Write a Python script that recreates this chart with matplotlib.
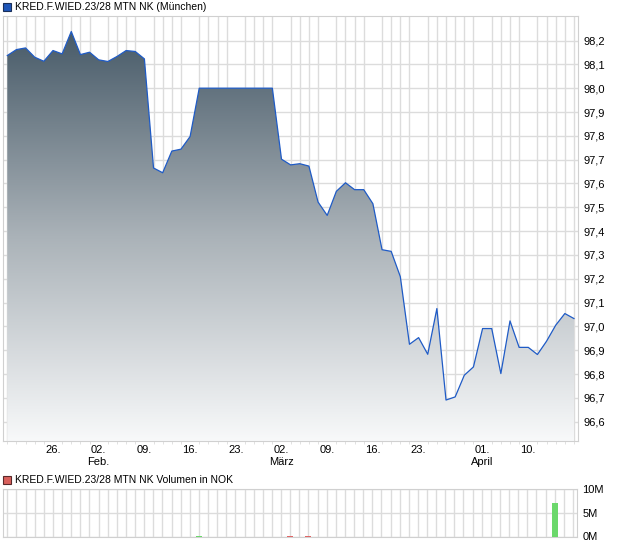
import numpy as np
import matplotlib.pyplot as plt
from matplotlib.patches import Polygon, Rectangle
from matplotlib.colors import LinearSegmentedColormap

plt.rcParams['font.family'] = ['Liberation Sans', 'DejaVu Sans']

# Schlusskurse pro Handelstag (Index 0 = 19.01.)
kurs = [98.137, 98.162, 98.169, 98.130, 98.113, 98.158, 98.144, 98.238, 98.141, 98.151,
        98.119, 98.112, 98.133, 98.158, 98.154, 98.123, 97.665, 97.645, 97.736, 97.744,
        97.797, 98.000, 98.000, 98.000, 98.000, 98.000, 98.000, 98.000, 98.000, 98.000,
        97.702, 97.678, 97.683, 97.673, 97.522, 97.466, 97.567, 97.603, 97.574, 97.574,
        97.515, 97.322, 97.315, 97.209, 96.925, 96.953, 96.883, 97.075, 96.691, 96.704,
        96.795, 96.830, 96.991, 96.991, 96.802, 97.023, 96.912, 96.912, 96.882, 96.938,
        97.005, 97.054, 97.033]

# Volumen in Mio. NOK
vol_tage = [21, 31, 33, 60]
vol_werte = [0.2, 0.2, 0.2, 7.1]
vol_steigend = [True, False, False, True]

x_ticks = [5, 10, 15, 20, 25, 30, 35, 40, 45, 52, 57]
x_labels = ["26.", "02.\nFeb.", "09.", "16.", "23.", "02.\nMärz", "09.", "16.", "23.",
            "01.\nApril", "10."]
y_ticks = [96.6, 96.7, 96.8, 96.9, 97.0, 97.1, 97.2, 97.3, 97.4, 97.5,
           97.6, 97.7, 97.8, 97.9, 98.0, 98.1, 98.2]

titel = "KRED.F.WIED.23/28 MTN NK (München)"
titel_vol = "KRED.F.WIED.23/28 MTN NK Volumen in NOK"

W, H = 620, 546
fig = plt.figure(figsize=(W / 100, H / 100), dpi=100)

grid_c = "#dcdcdc"
xlim = (-0.47, 62.44)
ylim = (96.519, 98.303)

ax = fig.add_axes([3 / W, 1 - 441 / H, 575 / W, 425 / H])
x = np.arange(len(kurs))
y = np.array(kurs)

ax.set_xlim(*xlim)
ax.set_ylim(*ylim)
ax.set_xticks(x, minor=True)
ax.set_xticks(x_ticks)
ax.set_xticklabels(x_labels, fontsize=8, linespacing=1.25)
ax.set_yticks(y_ticks)
ax.set_yticklabels([f"{v:.1f}".replace(".", ",") for v in y_ticks], fontsize=8)
ax.yaxis.tick_right()
ax.tick_params(axis='y', length=0, pad=4)
ax.tick_params(axis='x', which='major', length=0, pad=3)
ax.tick_params(axis='x', which='minor', length=2, color=grid_c)
ax.grid(True, which='minor', axis='x', color=grid_c, lw=1)
ax.grid(True, which='major', axis='y', color=grid_c, lw=1)
ax.set_axisbelow(True)
for s in ax.spines.values():
    s.set_color("#d0d0d0")

# Flaeche mit Verlauf
verts = np.vstack([[x[0], ylim[0]], np.column_stack([x, y]), [x[-1], ylim[0]]])
poly = Polygon(verts, closed=True, facecolor='none', edgecolor='none')
ax.add_patch(poly)
cmap = LinearSegmentedColormap.from_list("g", ["#f8f9fa", "#aab2b8", "#475a68"])
grad = np.linspace(0, 1, 256).reshape(-1, 1)
im = ax.imshow(grad, cmap=cmap, aspect='auto', origin='lower',
               extent=[x[0], x[-1], ylim[0], y.max()], zorder=2)
im.set_clip_path(poly)
ax.plot(x, y, color="#1f5bc6", lw=0.9, zorder=3)

# Legende oben
fig.patches.append(Rectangle((3 / W, 1 - 11 / H), 8 / W, 8 / H, transform=fig.transFigure,
                             facecolor="#1f56b8", edgecolor="#1a2f5a", lw=0.8))
fig.text(15 / W, 1 - 7 / H, titel, fontsize=7.5, va='center', ha='left')

# Volumen
axv = fig.add_axes([3 / W, 1 - 536.5 / H, 574 / W, 47.5 / H])
axv.set_xlim(*xlim)
axv.set_ylim(0, 10)
farben = ["#6bd86b" if s else "#e06666" for s in vol_steigend]
axv.bar(vol_tage, vol_werte, width=0.65, color=farben, zorder=3)
axv.set_xticks(x)
axv.set_xticklabels([])
axv.tick_params(axis='x', length=0)
axv.set_yticks([0, 5, 10])
axv.set_yticklabels(["0M", "5M", "10M"], fontsize=8)
axv.yaxis.tick_right()
axv.tick_params(axis='y', length=0, pad=4)
axv.grid(True, color=grid_c, lw=1)
axv.set_axisbelow(True)
for s in axv.spines.values():
    s.set_color("#d0d0d0")

fig.patches.append(Rectangle((3 / W, 1 - 484 / H), 8 / W, 8 / H, transform=fig.transFigure,
                             facecolor="#d9605c", edgecolor="#5a2a2a", lw=0.8))
fig.text(15 / W, 1 - 480 / H, titel_vol, fontsize=7.5, va='center', ha='left')

fig.savefig("out.png", dpi=100)
